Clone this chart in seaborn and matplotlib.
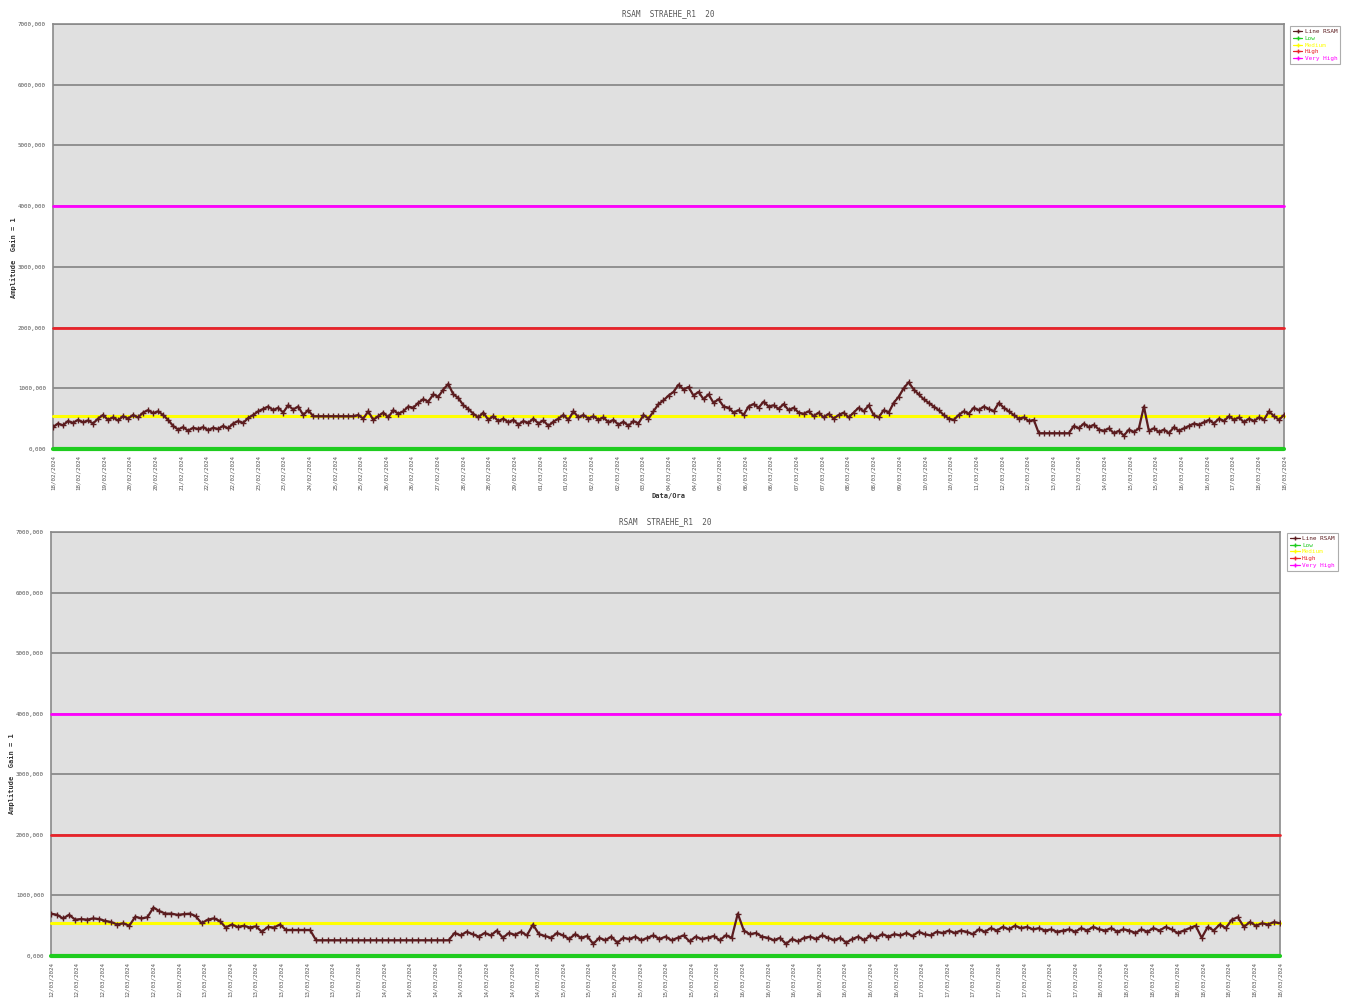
import numpy as np
import pandas as pd
import matplotlib
matplotlib.use("Agg")
import matplotlib.pyplot as plt
from matplotlib.lines import Line2D
import seaborn as sns

# ---------------- data ----------------
title_text = "RSAM  STRAEHE_R1  20"
ylabel_text = "Amplitude  Gain = 1"
xlabel_text = "Data/Ora"

threshold_names = ["Low", "Medium", "High", "Very High"]
threshold_values = [0, 550, 2000, 4000]
threshold_colors = ["#1fcc1f", "#ffff00", "#e8232a", "#ff00ff"]
rsam_color = "#5b1c1f"

y_ticks = [0, 1000, 2000, 3000, 4000, 5000, 6000, 7000]
y_tick_labels = ["0,000", "1000,000", "2000,000", "3000,000", "4000,000",
                 "5000,000", "6000,000", "7000,000"]

top_tick_labels = [
    "18/02/2024", "18/02/2024", "19/02/2024", "20/02/2024", "20/02/2024", "21/02/2024",
    "22/02/2024", "22/02/2024", "23/02/2024", "23/02/2024", "24/02/2024", "25/02/2024",
    "25/02/2024", "26/02/2024", "26/02/2024", "27/02/2024", "28/02/2024", "28/02/2024",
    "29/02/2024", "01/03/2024", "01/03/2024", "02/03/2024", "02/03/2024", "03/03/2024",
    "04/03/2024", "04/03/2024", "05/03/2024", "06/03/2024", "06/03/2024", "07/03/2024",
    "07/03/2024", "08/03/2024", "08/03/2024", "09/03/2024", "10/03/2024", "10/03/2024",
    "11/03/2024", "12/03/2024", "12/03/2024", "13/03/2024", "13/03/2024", "14/03/2024",
    "15/03/2024", "15/03/2024", "16/03/2024", "16/03/2024", "17/03/2024", "18/03/2024",
    "18/03/2024"]

bottom_tick_labels = (["12/03/2024"] * 6 + ["13/03/2024"] * 7 + ["14/03/2024"] * 7 +
                      ["15/03/2024"] * 7 + ["16/03/2024"] * 7 + ["17/03/2024"] * 7 +
                      ["18/03/2024"] * 8)

rsam_top = [
    360, 420, 390, 460, 430, 480, 440, 470, 420, 500,
    560, 480, 520, 470, 540, 500, 560, 520, 600, 640,
    590, 620, 560, 480, 380, 320, 360, 300, 350, 330,
    360, 310, 350, 330, 380, 340, 420, 460, 430, 510,
    560, 620, 660, 700, 640, 680, 600, 720, 650, 700,
    560, 640, 540, 540, 540, 540, 540, 540, 540, 540,
    540, 560, 500, 620, 480, 540, 600, 520, 640, 580,
    620, 700, 680, 760, 820, 780, 900, 860, 980, 1070,
    900, 840, 720, 660, 580, 520, 600, 480, 540, 460,
    500, 440, 480, 400, 460, 430, 500, 420, 470, 380,
    450, 500, 560, 480, 620, 520, 560, 500, 540, 480,
    520, 440, 480, 400, 450, 380, 460, 420, 560, 500,
    620, 740, 800, 880, 940, 1060, 980, 1020, 880, 940,
    820, 900, 760, 820, 700, 680, 600, 640, 560, 700,
    740, 680, 780, 700, 720, 660, 740, 640, 680, 600,
    580, 620, 540, 600, 520, 580, 500, 560, 600, 520,
    600, 680, 620, 720, 560, 520, 640, 600, 760, 860,
    1000, 1100, 980, 900, 820, 760, 700, 640, 560, 500,
    480, 560, 620, 580, 680, 640, 700, 660, 620, 760,
    680, 620, 560, 500, 520, 460, 480, 260, 260, 260,
    260, 260, 260, 260, 380, 340, 420, 360, 400, 320,
    300, 340, 260, 300, 220, 320, 280, 340, 700, 300,
    340, 280, 320, 260, 360, 300, 340, 380, 420, 400,
    440, 480, 420, 500, 460, 540, 480, 520, 440, 500,
    460, 520, 480, 620, 540, 480, 560]

rsam_bottom = [
    700, 680, 620, 680, 600, 610, 600, 620, 610, 580,
    560, 520, 540, 500, 650, 620, 640, 800, 740, 700,
    700, 680, 690, 700, 660, 540, 600, 620, 580, 470,
    520, 480, 500, 470, 490, 400, 480, 470, 520, 430,
    430, 430, 430, 430, 260, 260, 260, 260, 260, 260,
    260, 260, 260, 260, 260, 260, 260, 260, 260, 260,
    260, 260, 260, 260, 260, 260, 260, 380, 340, 400,
    360, 320, 380, 340, 420, 300, 380, 350, 400, 340,
    520, 360, 330, 300, 380, 340, 280, 360, 300, 330,
    200, 300, 260, 320, 220, 300, 280, 320, 260, 300,
    340, 280, 320, 260, 300, 340, 240, 320, 280, 300,
    330, 260, 340, 300, 700, 420, 360, 380, 320, 300,
    260, 300, 200, 280, 240, 300, 320, 280, 340, 300,
    260, 300, 220, 280, 320, 260, 340, 300, 360, 320,
    360, 340, 380, 330, 400, 360, 340, 400, 380, 420,
    380, 420, 400, 360, 440, 400, 460, 420, 480, 440,
    500, 460, 480, 440, 460, 420, 440, 400, 420, 440,
    400, 460, 420, 480, 440, 420, 460, 400, 440, 420,
    380, 440, 400, 460, 420, 480, 440, 380, 420, 460,
    500, 300, 480, 420, 520, 460, 600, 640, 480, 560,
    500, 540, 520, 560, 540]

# ---------------- style ----------------
sns.set_style("white")
plt.rcParams["font.family"] = ["DejaVu Sans Mono", "DejaVu Sans"]

fig = plt.figure(figsize=(13.54, 10.02), dpi=100)
fig.patch.set_facecolor("white")

W, H = 1354, 1002
def rect(l, t, r, b):
    return [l / W, 1 - b / H, (r - l) / W, (b - t) / H]

ax_top = fig.add_axes(rect(53, 24, 1284, 449))
ax_bot = fig.add_axes(rect(51, 532, 1280, 956))


def draw_panel(ax, values, tick_labels, show_xlabel, legend_anchor, ylab_y):
    n_ticks = len(tick_labels)
    df = pd.DataFrame({"x": np.linspace(0, n_ticks - 1, len(values)), "rsam": values})
    ax.set_facecolor("#e0e0e0")
    for yv in y_ticks[1:]:
        ax.axhline(yv, color="#8a8a8a", lw=1.3, zorder=1)
    widths = [3.0, 2.2, 2.0, 2.0]
    for name, val, col, lw in zip(threshold_names, threshold_values, threshold_colors, widths):
        ax.axhline(val, color=col, lw=lw, zorder=3, clip_on=False)
    sns.lineplot(data=df, x="x", y="rsam", ax=ax, color=rsam_color, lw=1.6,
                 marker="+", markersize=5, markeredgewidth=1.0, markeredgecolor=rsam_color,
                 zorder=4, legend=False)
    ax.set_xlim(0, n_ticks - 1)
    ax.set_ylim(0, 7000)
    ax.set_yticks(y_ticks)
    ax.set_yticklabels(y_tick_labels, fontsize=4.2, color="#555555")
    ax.set_xticks(range(n_ticks))
    ax.set_xticklabels(tick_labels, rotation=90, fontsize=4.2, color="#555555")
    ax.tick_params(axis="both", length=3, width=0.8, color="#777777", pad=1.5,
                   direction="out")
    ax.tick_params(axis="y", pad=2)
    for s in ax.spines.values():
        s.set_color("#8a8a8a")
        s.set_linewidth(1.2)
    ax.set_title(title_text, fontsize=5.5, color="#555555", pad=6)
    ax.set_ylabel(ylabel_text, fontsize=5, fontweight="bold", color="#333333")
    ax.yaxis.set_label_coords(-0.029, ylab_y)
    if show_xlabel:
        ax.set_xlabel(xlabel_text, fontsize=5, fontweight="bold", color="#333333", labelpad=2)
    else:
        ax.set_xlabel("")
    labels = ["Line RSAM"] + threshold_names
    colors = [rsam_color] + threshold_colors
    handles = [Line2D([0], [0], color=c, lw=0.9, marker="+", markersize=3) for c in colors]
    leg = ax.legend(handles, labels, loc="upper left", bbox_to_anchor=legend_anchor,
                    fontsize=4.3, frameon=True, fancybox=False, edgecolor="#999999",
                    handlelength=1.6, handletextpad=0.4, labelspacing=0.25,
                    borderpad=0.5, borderaxespad=0)
    leg.get_frame().set_linewidth(0.8)
    for t, c in zip(leg.get_texts(), colors):
        t.set_color(c)


draw_panel(ax_top, rsam_top, top_tick_labels, True, (1.0048, 0.995), 0.45)
draw_panel(ax_bot, rsam_bottom, bottom_tick_labels, False, (1.0057, 0.998), 0.43)

fig.savefig("out.png", dpi=100, facecolor="white")
